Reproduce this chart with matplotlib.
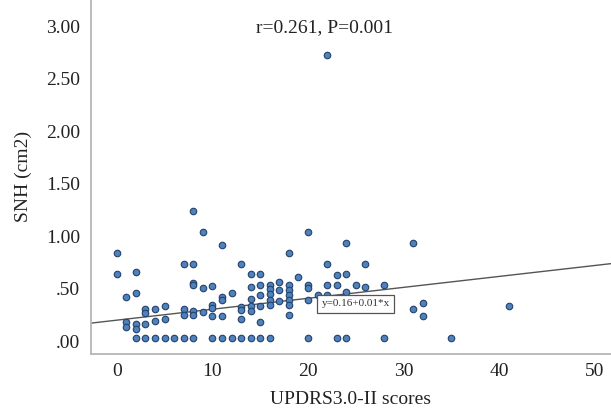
import matplotlib
matplotlib.use("Agg")
import matplotlib.pyplot as plt
import matplotlib.transforms as mtransforms
import numpy as np

# ---- data ----
updrs = [0, 0,
         1, 1, 1,
         2, 2, 2, 2, 2,
         3, 3, 3, 3,
         4, 4, 4,
         5, 5, 5,
         6,
         7, 7, 7, 7,
         8, 8, 8, 8, 8, 8, 8,
         9, 9, 9,
         10, 10, 10, 10, 10,
         11, 11, 11, 11, 11,
         12, 12,
         13, 13, 13, 13, 13,
         14, 14, 14, 14, 14, 14,
         15, 15, 15, 15, 15, 15,
         16, 16, 16, 16, 16, 16,
         17, 17, 17,
         18, 18, 18, 18, 18, 18, 18,
         19,
         20, 20, 20, 20, 20,
         21,
         22, 22, 22, 22,
         23, 23, 23,
         24, 24, 24, 24,
         25,
         26, 26,
         28, 28,
         31, 31,
         32, 32,
         35,
         41]
snh = [0.80, 0.60,
       0.39, 0.15, 0.10,
       0.62, 0.42, 0.13, 0.08, 0.00,
       0.27, 0.23, 0.13, 0.00,
       0.27, 0.16, 0.00,
       0.30, 0.18, 0.00,
       0.00,
       0.70, 0.27, 0.21, 0.00,
       1.20, 0.70, 0.52, 0.50, 0.25, 0.21, 0.00,
       1.00, 0.47, 0.24,
       0.49, 0.31, 0.28, 0.20, 0.00,
       0.88, 0.39, 0.36, 0.20, 0.00,
       0.42, 0.00,
       0.70, 0.29, 0.26, 0.18, 0.00,
       0.60, 0.48, 0.37, 0.30, 0.25, 0.00,
       0.60, 0.50, 0.40, 0.30, 0.15, 0.00,
       0.50, 0.46, 0.41, 0.36, 0.31, 0.00,
       0.53, 0.45, 0.35,
       0.80, 0.50, 0.45, 0.40, 0.36, 0.31, 0.21,
       0.58,
       1.00, 0.50, 0.47, 0.36, 0.00,
       0.40,
       2.69, 0.70, 0.50, 0.40,
       0.59, 0.50, 0.00,
       0.90, 0.60, 0.43, 0.00,
       0.50,
       0.70, 0.48,
       0.50, 0.00,
       0.90, 0.27,
       0.33, 0.20,
       0.00,
       0.30]

fit_intercept = 0.165
fit_slope = 0.0104

x_ticks = [0, 10, 20, 30, 40, 50]
y_ticks = [0.0, 0.5, 1.0, 1.5, 2.0, 2.5, 3.0]
y_tick_labels = [".00", ".50", "1.00", "1.50", "2.00", "2.50", "3.00"]

corr_text = "r=0.261, P=0.001"
eq_text = "y=0.16+0.01*x"

# ---- figure ----
plt.rcParams['font.family'] = ['Liberation Serif', 'DejaVu Serif']
fs = 14
fig = plt.figure(figsize=(6.11, 4.15), dpi=100)
ax = fig.add_axes([91 / 611, (415 - 353.5) / 415, 1 - 91 / 611, 353.5 / 415])

xlim = (-2.7, 51.7)
ylim = (-0.152, 3.21)
ax.set_xlim(*xlim)
ax.set_ylim(*ylim)

# regression line
xl = np.array(xlim)
ax.plot(xl, fit_intercept + fit_slope * xl, color='#555555', lw=1.0, zorder=2)

ax.scatter(updrs, snh, s=22, facecolor='#4f81bd', edgecolor='#24426a',
           linewidths=0.8, zorder=3)

for s in ['top', 'right']:
    ax.spines[s].set_visible(False)
for s in ['left', 'bottom']:
    ax.spines[s].set_color('#b5b5b5')
    ax.spines[s].set_linewidth(1.3)

ax.set_xticks(x_ticks)
ax.set_xticklabels([str(t) for t in x_ticks])
ax.set_yticks(y_ticks)
ax.set_yticklabels(y_tick_labels)
ax.tick_params(axis='both', length=0, labelsize=fs, colors='#222222')
ax.tick_params(axis='x', pad=7)
ax.tick_params(axis='y', pad=8)

# SPSS-like slight downward offset of y tick labels
offset = mtransforms.ScaledTranslation(0, -4 / 100, fig.dpi_scale_trans)
for lab in ax.get_yticklabels():
    lab.set_transform(lab.get_transform() + offset)

ax.set_xlabel("UPDRS3.0-II scores", fontsize=fs, color='#222222', labelpad=8)
ax.set_ylabel("SNH (cm2)", fontsize=fs, color='#222222', labelpad=10)

ax.text(21.7, 2.95, corr_text, ha='center', va='center',
        fontsize=fs, color='#222222')

ax.text(25.0, 0.32, eq_text, ha='center', va='center', fontsize=8,
        color='#333333', zorder=4,
        bbox=dict(boxstyle='square,pad=0.4', facecolor='white',
                  edgecolor='#555555', linewidth=0.9))

fig.savefig("out.png", dpi=100)
